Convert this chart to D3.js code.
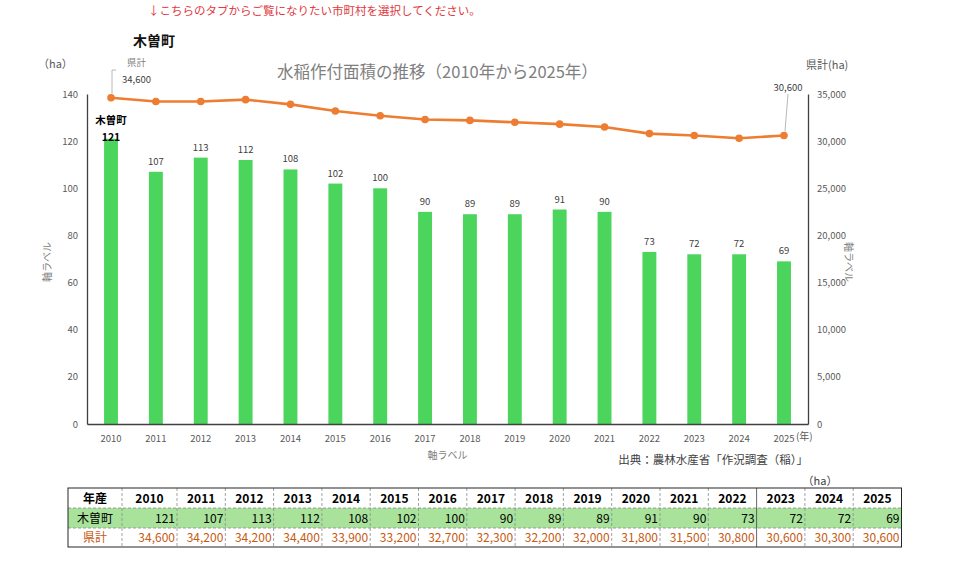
<!DOCTYPE html>
<html>
<head>
<meta charset="utf-8">
<script src="https://cdn.jsdelivr.net/npm/d3@7"></script>
<style>
body { margin: 0; background: #fff; }
svg text { font-family: "Noto Sans CJK JP", "Noto Sans", sans-serif; }
</style>
</head>
<body>
<script>
// data
var years = [2010, 2011, 2012, 2013, 2014, 2015, 2016, 2017, 2018, 2019, 2020, 2021, 2022, 2023, 2024, 2025];
var townValues = [121, 107, 113, 112, 108, 102, 100, 90, 89, 89, 91, 90, 73, 72, 72, 69];
var prefValues = [34600, 34200, 34200, 34400, 33900, 33200, 32700, 32300, 32200, 32000, 31800, 31500, 30800, 30600, 30300, 30600];
var leftTicks = [0, 20, 40, 60, 80, 100, 120, 140];
var rightTicks = [0, 5000, 10000, 15000, 20000, 25000, 30000, 35000];
var townName = "木曽町";
var prefName = "県計";

var W = 960, H = 568;
var green = "#4cd55c", orange = "#ed7d31", grey = "#595959";

var svg = d3.select("body").append("svg")
    .attr("width", W)
    .attr("height", H);

var plot = { left: 87, right: 808, top: 94, bottom: 424 };

var x = d3.scaleBand()
    .domain(years)
    .range([plot.left, plot.right])
    .paddingInner(0.69)
    .paddingOuter(0.38);
var yL = d3.scaleLinear().domain([0, 140]).range([plot.bottom, plot.top]);
var yR = d3.scaleLinear().domain([0, 35000]).range([plot.bottom, plot.top]);
var cx = function (d) { return x(d) + x.bandwidth() / 2; };

// top notes
svg.append("text").attr("x", 148).attr("y", 15)
    .attr("font-size", 11.5).attr("fill", "#e0393e")
    .text("↓こちらのタブからご覧になりたい市町村を選択してください。");
svg.append("text").attr("x", 133).attr("y", 46)
    .attr("font-size", 14).attr("font-weight", "bold").attr("fill", "#111")
    .text(townName);
svg.append("text").attr("x", (plot.left + plot.right) / 2 - 10).attr("y", 78)
    .attr("text-anchor", "middle").attr("font-size", 16.5).attr("fill", "#7f7f7f")
    .text("水稲作付面積の推移（2010年から2025年）");
svg.append("text").attr("x", 38).attr("y", 68)
    .attr("font-size", 11).attr("fill", grey).text("（ha）");
svg.append("text").attr("x", 806).attr("y", 69)
    .attr("font-size", 11).attr("fill", grey).text("県計(ha)");

// bars
svg.append("g").selectAll("rect")
    .data(years)
    .enter().append("rect")
    .attr("x", function (d) { return x(d); })
    .attr("width", x.bandwidth())
    .attr("y", function (d, i) { return yL(townValues[i]); })
    .attr("height", function (d, i) { return plot.bottom - yL(townValues[i]); })
    .attr("fill", green);

// bar labels
svg.append("g").selectAll("text")
    .data(years)
    .enter().append("text")
    .attr("x", cx)
    .attr("y", function (d, i) { return i === 0 ? yL(townValues[i]) + 2 : yL(townValues[i]) - 7; })
    .attr("text-anchor", "middle")
    .attr("font-size", function (d, i) { return i === 0 ? 10.5 : 9.5; })
    .attr("font-weight", function (d, i) { return i === 0 ? "bold" : "normal"; })
    .attr("fill", function (d, i) { return i === 0 ? "#000" : "#404040"; })
    .text(function (d, i) { return townValues[i]; });
svg.append("text").attr("x", cx(years[0])).attr("y", 124)
    .attr("text-anchor", "middle").attr("font-size", 10.5).attr("font-weight", "bold")
    .attr("fill", "#000").text(townName);

// axes
var axL = svg.append("g").attr("transform", "translate(" + plot.left + ",0)")
    .call(d3.axisLeft(yL).tickValues(leftTicks).tickSize(0).tickPadding(9));
var axR = svg.append("g").attr("transform", "translate(" + plot.right + ",0)")
    .call(d3.axisRight(yR).tickValues(rightTicks).tickSize(0).tickPadding(9).tickFormat(d3.format(",")));
var axB = svg.append("g").attr("transform", "translate(0," + plot.bottom + ")")
    .call(d3.axisBottom(x).tickSize(0).tickPadding(11));
[axL, axR, axB].forEach(function (a) {
    a.select(".domain").attr("stroke", "#404040").attr("stroke-width", 1.3);
    a.selectAll("text").attr("fill", grey).attr("font-size", 9.5)
        .attr("font-family", "\"Noto Sans CJK JP\", sans-serif");
});
svg.append("text").attr("x", cx(2025) + 12).attr("y", 440)
    .attr("font-size", 10).attr("fill", grey).text("(年)");

// axis titles
svg.append("text").attr("x", (plot.left + plot.right) / 2).attr("y", 459)
    .attr("text-anchor", "middle").attr("font-size", 10).attr("fill", "#7f7f7f").text("軸ラベル");
svg.append("text").attr("transform", "translate(51,262) rotate(-90)")
    .attr("text-anchor", "middle").attr("font-size", 10).attr("fill", "#7f7f7f").text("軸ラベル");
svg.append("text").attr("transform", "translate(845,262) rotate(90)")
    .attr("text-anchor", "middle").attr("font-size", 10).attr("fill", "#7f7f7f").text("軸ラベル");

// source
svg.append("text").attr("x", 808).attr("y", 464)
    .attr("text-anchor", "end").attr("font-size", 11.5).attr("fill", "#404040")
    .text("出典：農林水産省「作況調査（稲）」");

// prefecture line
var line = d3.line()
    .x(function (d) { return cx(d); })
    .y(function (d, i) { return yR(prefValues[i]); });
svg.append("path").datum(years)
    .attr("d", line).attr("fill", "none")
    .attr("stroke", orange).attr("stroke-width", 2.6);
svg.append("g").selectAll("circle")
    .data(years)
    .enter().append("circle")
    .attr("cx", cx)
    .attr("cy", function (d, i) { return yR(prefValues[i]); })
    .attr("r", 3.8)
    .attr("fill", orange);

// line callouts (first and last)
var fmt = d3.format(",");
var first = prefValues[0], last = prefValues[prefValues.length - 1];
svg.append("path")
    .attr("d", "M" + (cx(2010) + 5) + "," + 70 + "H" + (cx(2010) + 1) + "V" + (yR(first) - 4))
    .attr("fill", "none").attr("stroke", "#a6a6a6").attr("stroke-width", 0.8);
svg.append("text").attr("x", cx(2010) + 16).attr("y", 66)
    .attr("font-size", 9.5).attr("fill", "#7f7f7f").text(prefName);
svg.append("text").attr("x", cx(2010) + 11).attr("y", 83)
    .attr("font-size", 9.5).attr("fill", "#404040").text(fmt(first));
svg.append("line")
    .attr("x1", cx(2025) + 4).attr("y1", 94).attr("x2", cx(2025) + 1).attr("y2", yR(last) - 4)
    .attr("stroke", "#a6a6a6").attr("stroke-width", 0.8);
svg.append("text").attr("x", cx(2025) + 4).attr("y", 91)
    .attr("text-anchor", "middle").attr("font-size", 9.5).attr("fill", "#404040").text(fmt(last));

// table
svg.append("text").attr("x", 820).attr("y", 485)
    .attr("text-anchor", "middle").attr("font-size", 11).attr("fill", "#404040").text("（ha）");

var colW = [54, 55].concat(years.slice(1).map(function () { return 48.3; }));
var colX = [68];
colW.forEach(function (w, i) { colX.push(colX[i] + w); });
var rowY = [488, 508, 528, 547];
var tbl = svg.append("g");
tbl.append("rect").attr("x", colX[0]).attr("y", rowY[1])
    .attr("width", colX[colX.length - 1] - colX[0]).attr("height", rowY[2] - rowY[1])
    .attr("fill", "#a9e29b");

var rows = [
    { label: "年産", cells: years, fill: "#000", bold: true, anchor: "middle" },
    { label: townName, cells: townValues, fill: "#000", bold: false, anchor: "end" },
    { label: prefName, cells: prefValues.map(fmt), fill: "#c55a11", bold: false, anchor: "end" }
];
rows.forEach(function (r, ri) {
    var ty = (rowY[ri] + rowY[ri + 1]) / 2 + 4.5;
    tbl.append("text").attr("x", (colX[0] + colX[1]) / 2).attr("y", ty)
        .attr("text-anchor", "middle").attr("font-size", 12)
        .attr("font-weight", ri === 0 ? "bold" : "normal")
        .attr("fill", r.fill).text(r.label);
    tbl.selectAll(null).data(r.cells).enter().append("text")
        .attr("x", function (d, i) { return r.anchor === "middle" ? (colX[i + 1] + colX[i + 2]) / 2 : colX[i + 2] - 2; })
        .attr("y", ty)
        .attr("text-anchor", r.anchor)
        .attr("font-size", 12)
        .attr("font-weight", r.bold ? "bold" : "normal")
        .attr("fill", r.fill)
        .text(function (d) { return d; });
});
// inner grid (dashed)
colX.slice(1, -1).forEach(function (cxv, i) {
    tbl.append("line").attr("x1", cxv).attr("x2", cxv).attr("y1", rowY[0]).attr("y2", rowY[3])
        .attr("stroke", i === 13 ? "#404040" : "#8c8c8c").attr("stroke-width", 0.8)
        .attr("stroke-dasharray", i === 13 ? null : "3,2");
});
rowY.slice(1, -1).forEach(function (ry) {
    tbl.append("line").attr("x1", colX[0]).attr("x2", colX[colX.length - 1]).attr("y1", ry).attr("y2", ry)
        .attr("stroke", "#8c8c8c").attr("stroke-width", 0.8).attr("stroke-dasharray", "3,2");
});
tbl.append("rect").attr("x", colX[0]).attr("y", rowY[0])
    .attr("width", colX[colX.length - 1] - colX[0]).attr("height", rowY[3] - rowY[0])
    .attr("fill", "none").attr("stroke", "#262626").attr("stroke-width", 1);
</script>
</body>
</html>
